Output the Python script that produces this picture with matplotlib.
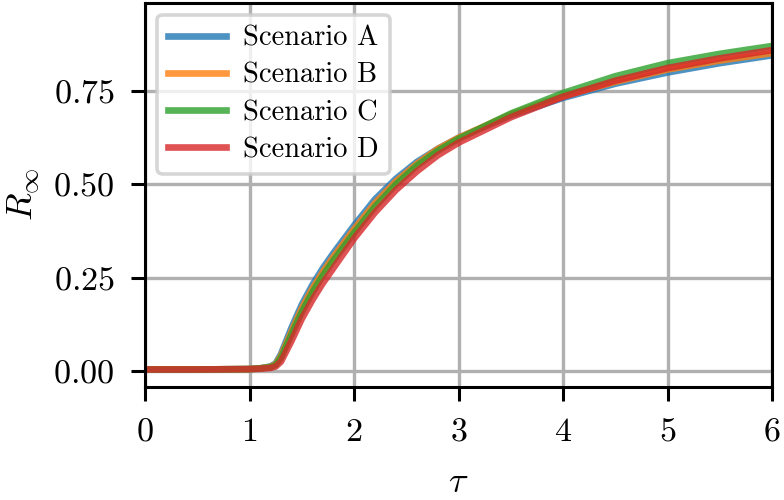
import matplotlib
matplotlib.use("Agg")
import matplotlib.pyplot as plt
import numpy as np

plt.rcParams["font.family"] = "serif"
plt.rcParams["font.serif"] = ["cmr10"]
plt.rcParams["mathtext.fontset"] = "cm"
plt.rcParams["axes.formatter.use_mathtext"] = True

tau = [0.0, 0.5, 1.0, 1.1, 1.2, 1.25, 1.3, 1.4, 1.5, 1.6, 1.7, 1.8,
       2.0, 2.2, 2.4, 2.6, 2.8, 3.0, 3.5, 4.0, 4.5, 5.0, 5.5, 6.0]

scenario_a = [0.004, 0.004, 0.005, 0.007, 0.012, 0.02, 0.045, 0.115, 0.178, 0.23, 0.275, 0.315,
              0.39, 0.46, 0.515, 0.56, 0.595, 0.625, 0.685, 0.732, 0.77, 0.80, 0.825, 0.846]
scenario_b = [0.004, 0.004, 0.005, 0.007, 0.011, 0.018, 0.04, 0.105, 0.168, 0.22, 0.265, 0.305,
              0.38, 0.45, 0.508, 0.555, 0.595, 0.625, 0.688, 0.737, 0.775, 0.808, 0.832, 0.852]
scenario_c = [0.004, 0.004, 0.005, 0.007, 0.01, 0.016, 0.035, 0.097, 0.158, 0.21, 0.255, 0.295,
              0.37, 0.44, 0.50, 0.55, 0.59, 0.622, 0.69, 0.745, 0.79, 0.825, 0.85, 0.871]
scenario_d = [0.004, 0.004, 0.005, 0.006, 0.008, 0.012, 0.025, 0.08, 0.14, 0.19, 0.235, 0.275,
              0.355, 0.425, 0.485, 0.535, 0.578, 0.612, 0.68, 0.735, 0.778, 0.812, 0.838, 0.86]

labels = ["Scenario A", "Scenario B", "Scenario C", "Scenario D"]
colors = ["tab:blue", "tab:orange", "tab:green", "tab:red"]

fig = plt.figure(figsize=(7.84, 5.0), dpi=100)
ax = fig.add_axes([0.185, 0.226, 0.8, 0.7686])

for ys, lab, c in zip([scenario_a, scenario_b, scenario_c, scenario_d], labels, colors):
    ax.plot(tau, ys, color=c, lw=4.8, alpha=0.8, label=lab)

ax.set_xlim(0, 6)
ax.set_ylim(-0.043, 0.987)
ax.set_yticks([0.0, 0.25, 0.5, 0.75])
ax.set_xticks(range(7))
ax.grid(True, color="#b0b0b0", lw=2.4)
ax.set_axisbelow(True)

for sp in ax.spines.values():
    sp.set_linewidth(2.2)
ax.tick_params(direction="out", length=10, width=2.2, labelsize=24.5, pad=12)

ax.set_xlabel(r"$\tau$", fontsize=26, labelpad=15)
ax.set_ylabel(r"$R_\infty$", fontsize=26, labelpad=8)

leg = ax.legend(loc="upper left", fontsize=20.5, handlelength=2.05,
                handletextpad=0.6, labelspacing=0.38, borderpad=0.38,
                borderaxespad=0.42)
leg.get_frame().set_linewidth(2.6)

fig.savefig("out.png", dpi=100)
